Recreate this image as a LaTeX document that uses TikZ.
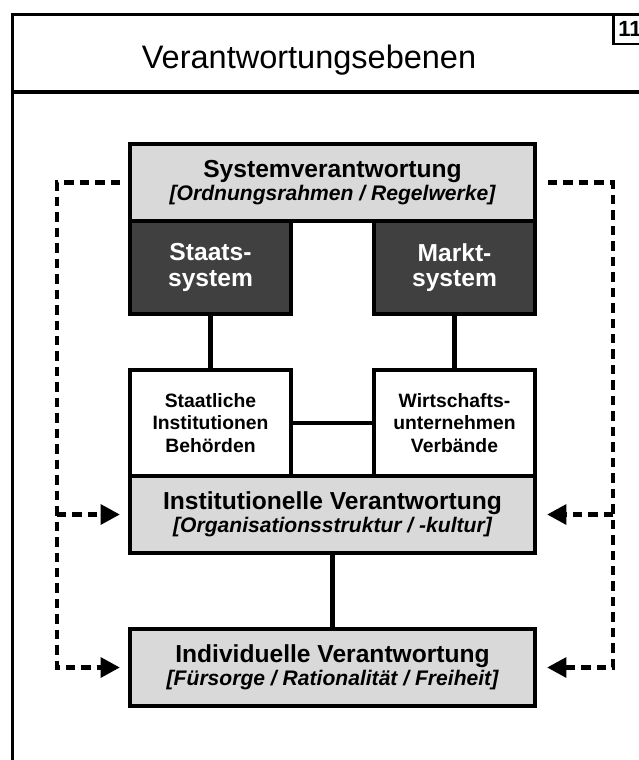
\documentclass[tikz,border=0pt]{standalone}
\usepackage{fontspec}
\setmainfont{Liberation Sans}
\usetikzlibrary{positioning,arrows.meta}
\definecolor{levelgray}{RGB}{217,217,217}
\definecolor{sysdark}{RGB}{64,64,64}
\newcommand{\lvltitle}[1]{{\fontsize{14}{16}\selectfont\bfseries #1}}
\newcommand{\lvlnote}[1]{{\fontsize{12}{14}\selectfont\bfseries\itshape #1}}

\begin{document}
\begin{tikzpicture}
	\tikzset{box style/.style={draw=black, line width=2pt, inner sep=2pt, outer sep=0pt, align=center},
		level box/.style={box style, fill=levelgray, minimum width=8.1cm, minimum height=1.54cm},
		system box/.style={box style, fill=sysdark, text=white, minimum width=3.22cm, minimum height=1.86cm, font=\fontsize{14}{14.5}\selectfont\bfseries},
		actor box/.style={box style, fill=white, minimum width=3.22cm, minimum height=2.12cm, font=\fontsize{11}{13}\selectfont\bfseries},
		link/.style={line width=2.4pt},
		feedback/.style={line width=2.8pt, dash pattern=on 5.4pt off 3.4pt, -{Triangle[length=11pt,width=11pt]}}}
	\useasboundingbox (0,0) rectangle (12.78,-15.2);
	\clip (0,0) rectangle (12.78,-15.2);
	\draw[line width=2.2pt] (0.25,-0.29) rectangle (13.3,-15.8);
	\draw[line width=2.2pt] (0.25,-1.84) -- (13.3,-1.84);
	\draw[line width=1.6pt] (12.27,-0.29) rectangle (13.3,-0.88);
	\node[anchor=base, font=\fontsize{18.5}{20}\selectfont] (title) at (6.18,-1.36) {Verantwortungsebenen};
	\node[anchor=base west, inner sep=0pt, font=\fontsize{12.5}{14}\selectfont\bfseries] (nr) at (12.36,-0.72) {11};
	\node[level box] (sys) at (6.65,-3.65) {\lvltitle{Systemverantwortung}\\[1pt]\lvlnote{[Ordnungsrahmen / Regelwerke]}};
	\node[system box, below right=0pt of sys.south west] (staats) {Staats-\\system};
	\node[system box, below left=0pt of sys.south east] (markt) {Markt-\\system};
	\node[actor box, below=1.12cm of staats] (staatl) {Staatliche\\Institutionen\\Behörden};
	\node[actor box, below=1.12cm of markt] (wirt) {Wirtschafts-\\unternehmen\\Verbände};
	\node[level box, below right=0pt of staatl.south west] (inst) {\lvltitle{Institutionelle Verantwortung}\\[1pt]\lvlnote{[Organisationsstruktur / -kultur]}};
	\node[level box, below=1.52cm of inst] (ind) {\lvltitle{Individuelle Verantwortung}\\[1pt]\lvlnote{[Fürsorge / Rationalität / Freiheit]}};
	\draw[link] (staats) -- (staatl);
	\draw[link] (markt) -- (wirt);
	\draw[link] (staatl) -- (wirt);
	\draw[link] (inst) -- (ind);
	\coordinate (lrail) at ([xshift=-1.46cm]sys.west);
	\coordinate (rrail) at ([xshift=1.56cm]sys.east);
	\draw[feedback] ([xshift=-0.2cm]sys.west) -- (lrail) |- ([xshift=-0.2cm]ind.west);
	\draw[feedback] (lrail |- inst.west) -- ([xshift=-0.2cm]inst.west);
	\draw[feedback] ([xshift=0.26cm]sys.east) -- (rrail) |- ([xshift=0.24cm]ind.east);
	\draw[feedback] (rrail |- inst.east) -- ([xshift=0.24cm]inst.east);
\end{tikzpicture}
\end{document}
